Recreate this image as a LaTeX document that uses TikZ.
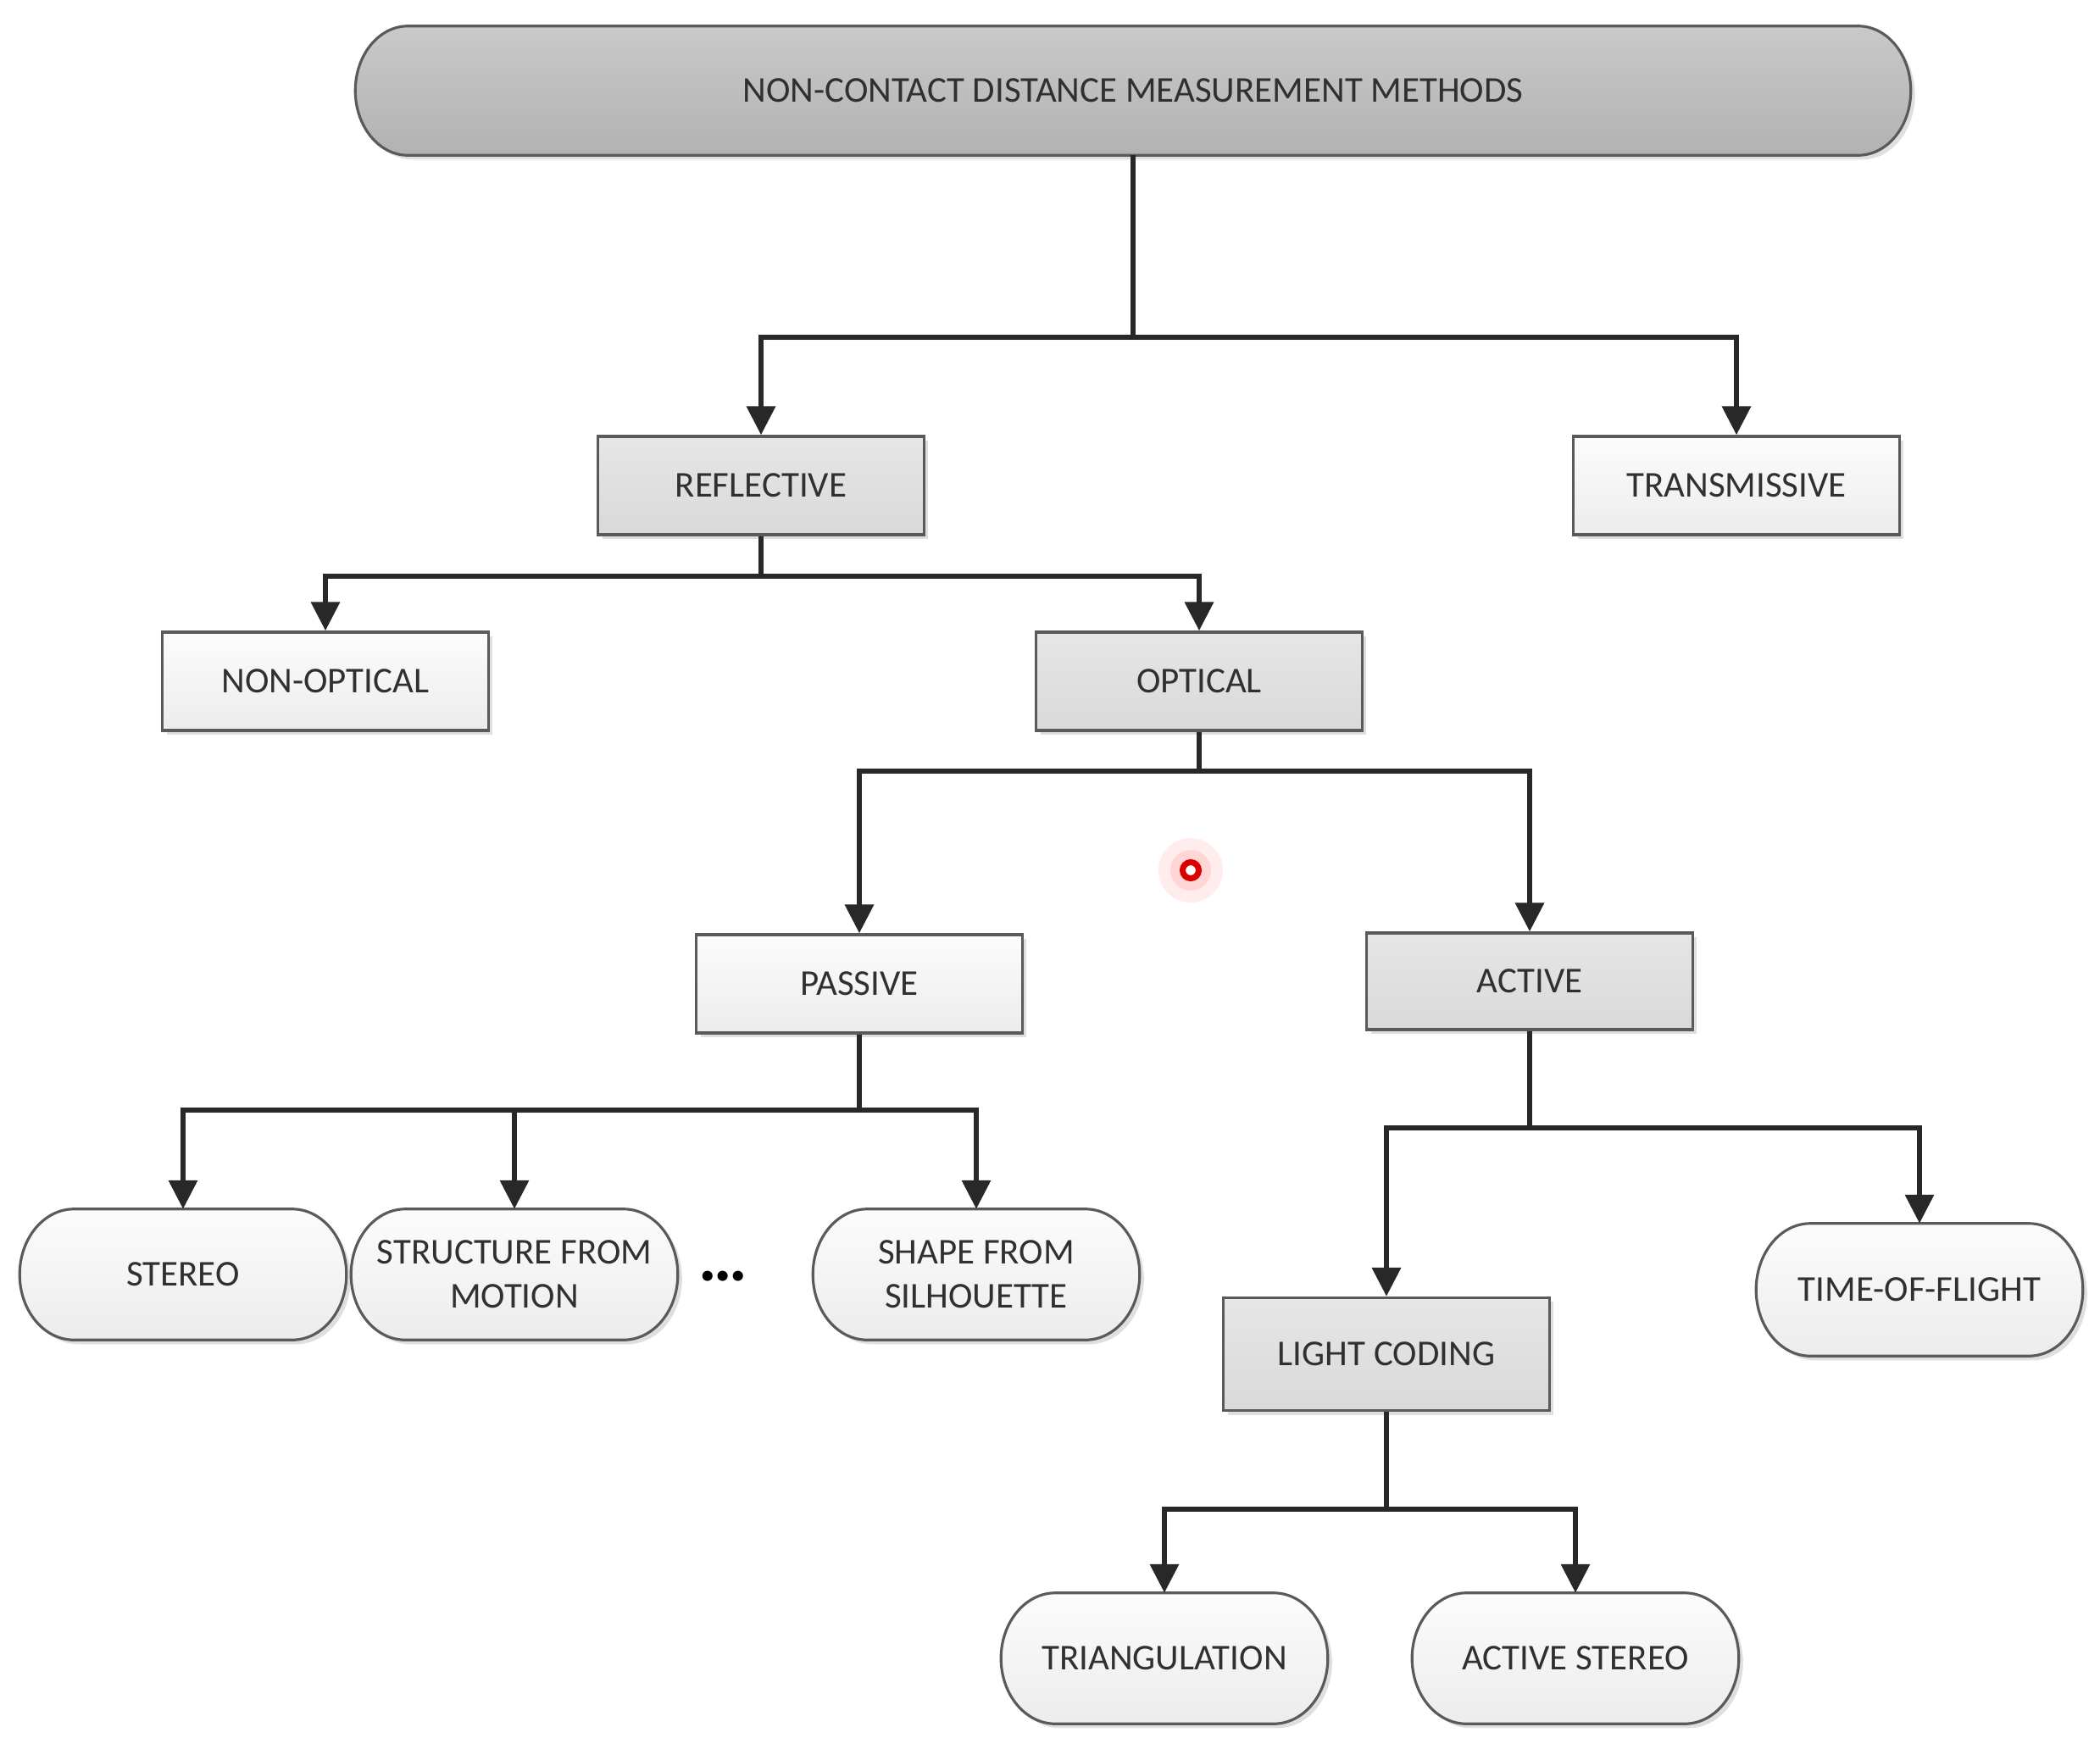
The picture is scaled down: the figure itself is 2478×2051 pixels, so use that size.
\documentclass[tikz,border=0pt]{standalone}
\usepackage{fontspec}
\setmainfont{Carlito}
\usetikzlibrary{shadows,arrows.meta,calc,backgrounds}
\definecolor{txt}{HTML}{303030}
\definecolor{bordc}{HTML}{5A5A5A}
\definecolor{linec}{HTML}{282828}
\definecolor{topA}{HTML}{C9C9C9}
\definecolor{topB}{HTML}{B2B2B2}
\definecolor{grA}{HTML}{E6E6E6}
\definecolor{grB}{HTML}{D9D9D9}
\definecolor{whA}{HTML}{FCFCFC}
\definecolor{whB}{HTML}{ECECEC}
% background shape with half-elliptic ends behind a node: #1 end radius, #2 style, #3 node
\newcommand\ovalback[3]{%
  \path[#2] let \p1=(#3.north west), \p2=(#3.south east), \n1={(\y1-\y2)/2} in
    (\x1+#1,\y1) -- (\x2-#1,\y1)
    arc[start angle=90, end angle=-90, x radius=#1, y radius=\n1]
    -- (\x1+#1,\y2)
    arc[start angle=270, end angle=90, x radius=#1, y radius=\n1] -- cycle;}
\begin{document}
\begin{tikzpicture}[x=0.01cm,y=-0.01cm,
  txtstyle/.style={font=\fontsize{12.2}{14.8}\selectfont, text=txt, align=center, inner sep=2pt},
  shadowed/.style={drop shadow={shadow xshift=0.05cm, shadow yshift=-0.05cm, opacity=0.25, fill=gray}},
  base/.style={txtstyle, draw=bordc, line width=0.9pt, shadowed},
  graybox/.style={base, rectangle, minimum width=3.84cm, minimum height=1.16cm, top color=grA, bottom color=grB},
  whitebox/.style={base, rectangle, minimum width=3.84cm, minimum height=1.16cm, top color=whA, bottom color=whB},
  pill/.style={txtstyle, rectangle, minimum width=3.84cm, minimum height=1.53cm},
  pillfill/.style={draw=bordc, line width=0.9pt, shadowed, top color=whA, bottom color=whB},
  topfill/.style={draw=bordc, line width=0.9pt, shadowed, top color=topA, bottom color=topB},
  ln/.style={draw=linec, line width=1.9pt},
  arr/.style={ln, -{Triangle[length=0.34cm,width=0.33cm]}}
]
\useasboundingbox (0,0) rectangle (2478,2051);

% nodes
\node[pill, minimum width=18.33cm, minimum height=1.51cm] (top) at (1337,107) {NON-CONTACT DISTANCE MEASUREMENT METHODS};
\node[graybox] (refl) at (898,573) {REFLECTIVE};
\node[whitebox] (trans) at (2049,573) {TRANSMISSIVE};
\node[whitebox] (nonopt) at (384,804) {NON-OPTICAL};
\node[graybox] (opt) at (1415,804) {OPTICAL};
\node[whitebox] (passive) at (1014,1161) {PASSIVE};
\node[graybox, minimum height=1.14cm] (active) at (1805,1158) {ACTIVE};
\node[pill] (stereo) at (216,1504) {STEREO};
\node[pill] (sfm) at (607,1504) {STRUCTURE FROM\\MOTION};
\node[text=black, font=\fontsize{23}{23}\selectfont\bfseries, inner sep=0pt] (dots) at (853,1506) {…};
\node[pill] (sfs) at (1152,1504) {SHAPE FROM\\SILHOUETTE};
\node[graybox, minimum height=1.33cm] (lc) at (1636,1598) {LIGHT CODING};
\node[pill, minimum height=1.55cm] (tof) at (2265,1522) {TIME-OF-FLIGHT};
\node[pill] (tri) at (1374,1957) {TRIANGULATION};
\node[pill] (astereo) at (1859,1957) {ACTIVE STEREO};

\begin{pgfonlayer}{background}
  \ovalback{0.62cm}{topfill}{top}
  \foreach \nd in {stereo,sfm,sfs,tof,tri,astereo} {\ovalback{0.64cm}{pillfill}{\nd}}
\end{pgfonlayer}

% junctions
\coordinate (j0) at (top.south |- 0,398);
\coordinate (j1) at (refl.south |- 0,680);
\coordinate (j2) at (opt.south |- 0,910);
\coordinate (j3) at (passive.south |- 0,1310);
\coordinate (j4) at (active.south |- 0,1331);
\coordinate (j5) at (lc.south |- 0,1781);

% connectors
\draw[arr] (top.south) -- (j0) -| (refl.north);
\draw[arr] (j0) -| (trans.north);
\draw[arr] (refl.south) -- (j1) -| (nonopt.north);
\draw[arr] (j1) -| (opt.north);
\draw[arr] (opt.south) -- (j2) -| (passive.north);
\draw[arr] (j2) -| (active.north);
\draw[arr] (passive.south) -- (j3) -| (stereo.north);
\draw[arr] (j3) -| (sfm.north);
\draw[arr] (j3) -| (sfs.north);
\draw[arr] (active.south) -- (j4) -| (lc.north);
\draw[arr] (j4) -| (tof.north);
\draw[arr] (lc.south) -- (j5) -| (tri.north);
\draw[arr] (j5) -| (astereo.north);

% red pointer mark
\fill[red, opacity=0.07] (1405,1027) circle (0.38cm);
\fill[red, opacity=0.10] (1405,1027) circle (0.24cm);
\fill[white] (1405,1027) circle (0.06cm);
\draw[red!85!black, line width=0.07cm] (1405,1027) circle (0.095cm);
\end{tikzpicture}
\end{document}
